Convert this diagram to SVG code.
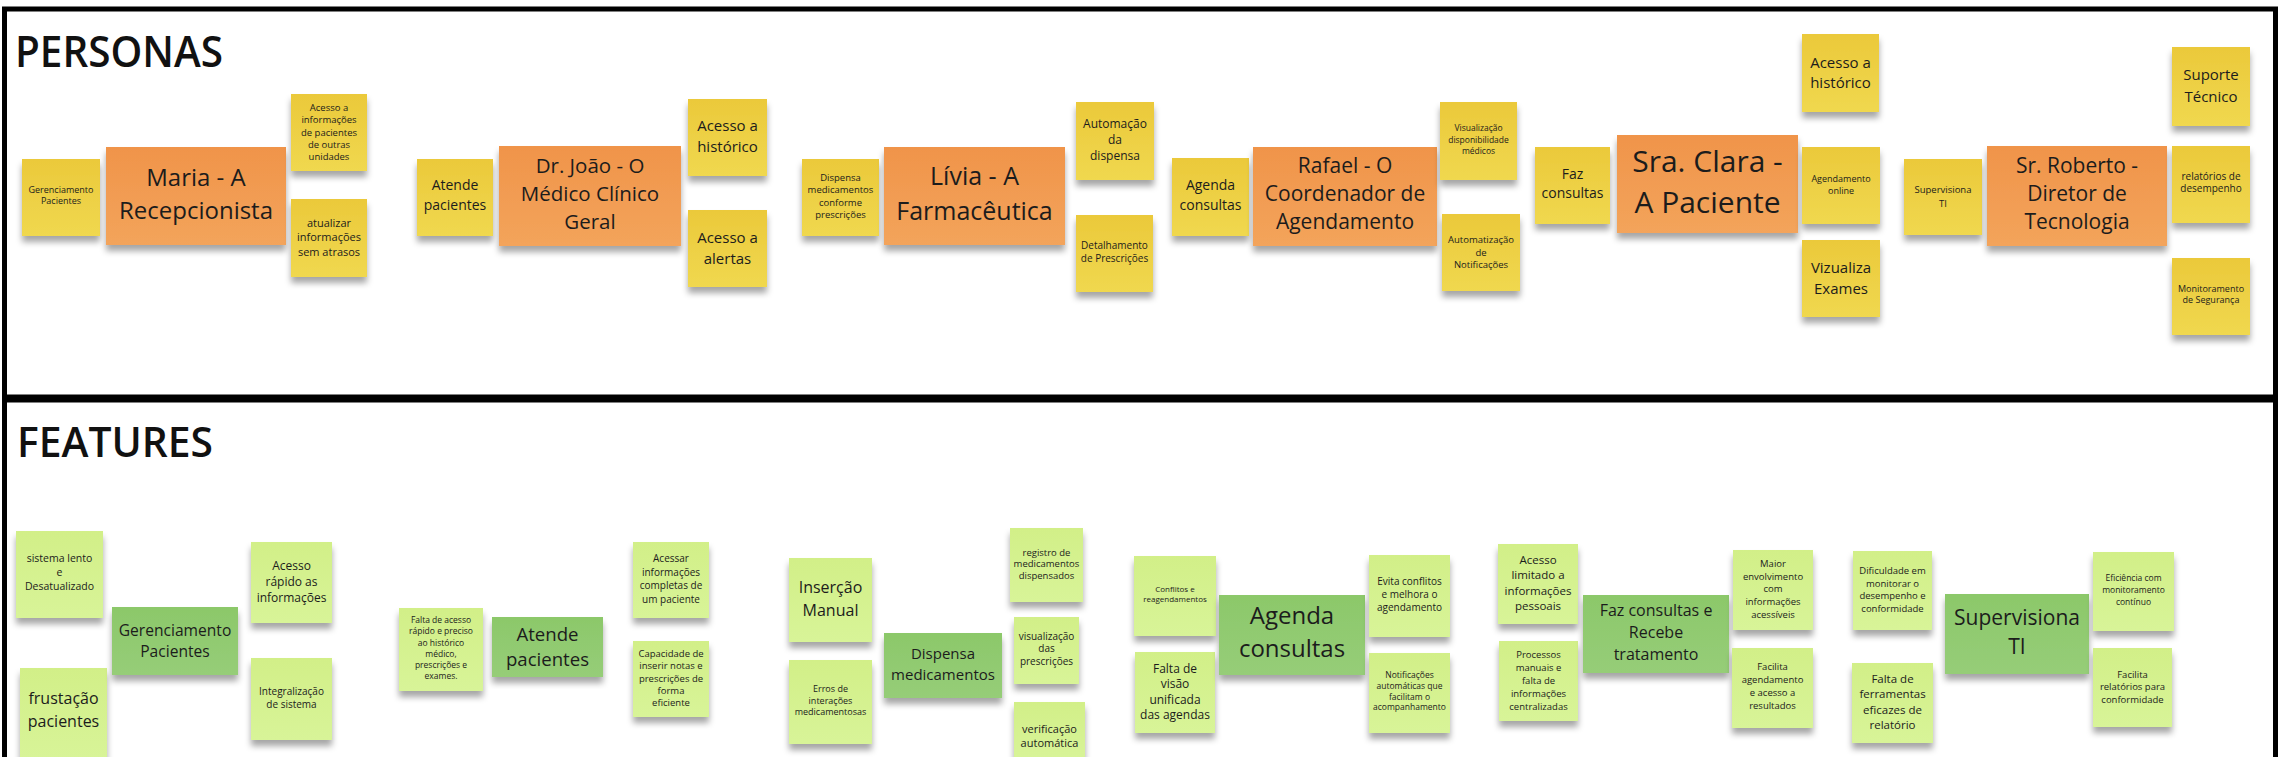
<svg xmlns="http://www.w3.org/2000/svg" width="2282" height="757" viewBox="0 0 2282 757">
<style>
text{font-family:"Open Sans","Noto Sans",sans-serif;fill:#1c1c1c;text-anchor:middle}
.title{text-anchor:start;font-weight:600;fill:#111}
.frame{fill:none;stroke:#000;stroke-width:5}
.y{fill:url(#gy);filter:url(#sh)}
.o{fill:url(#go);filter:url(#sh)}
.lg{fill:url(#glg);filter:url(#sh)}
.dg{fill:url(#gdg);filter:url(#sh)}
</style>
<defs>
<linearGradient id="gy" x1="0" y1="0" x2="0" y2="1"><stop offset="0" stop-color="#ebc93a"/><stop offset="1" stop-color="#f0d84f"/></linearGradient>
<linearGradient id="go" x1="0" y1="0" x2="0" y2="1"><stop offset="0" stop-color="#f0944a"/><stop offset="1" stop-color="#f3a45b"/></linearGradient>
<linearGradient id="glg" x1="0" y1="0" x2="0" y2="1"><stop offset="0" stop-color="#d2ef88"/><stop offset="1" stop-color="#d8f498"/></linearGradient>
<linearGradient id="gdg" x1="0" y1="0" x2="0" y2="1"><stop offset="0" stop-color="#8cc86a"/><stop offset="1" stop-color="#96cd78"/></linearGradient>
<filter id="sh" x="-10%" y="-10%" width="120%" height="130%"><feDropShadow dx="0" dy="6" stdDeviation="3" flood-color="#000" flood-opacity="0.35"/></filter>
</defs>
<rect width="2282" height="757" fill="#fff"/>
<g id="frames">
<rect class="frame" x="4.5" y="9" width="2271" height="388"/>
<rect class="frame" x="4.5" y="400" width="2271" height="400"/>
<text class="title" x="15" y="67" font-size="44" textLength="208" lengthAdjust="spacingAndGlyphs">PERSONAS</text>
<text class="title" x="17" y="457" font-size="42" textLength="196" lengthAdjust="spacingAndGlyphs">FEATURES</text>
</g>
<g id="connectors"></g>
<g id="p-gerenc"><rect class="y" x="22" y="159" width="78" height="77"/><text font-size="9"><tspan x="61" y="193">Gerenciamento</tspan><tspan x="61" y="204">Pacientes</tspan></text></g>
<g id="p-maria"><rect class="o" x="106" y="147" width="180" height="98"/><text font-size="24"><tspan x="196" y="186">Maria - A</tspan><tspan x="196" y="219">Recepcionista</tspan></text></g>
<g id="p-acesso-info"><rect class="y" x="291" y="94" width="76" height="77"/><text font-size="9.5"><tspan x="329" y="111">Acesso  a</tspan><tspan x="329" y="123">informações</tspan><tspan x="329" y="136">de pacientes</tspan><tspan x="329" y="148">de outras</tspan><tspan x="329" y="160">unidades</tspan></text></g>
<g id="p-atualizar"><rect class="y" x="291" y="199" width="76" height="78"/><text font-size="11"><tspan x="329" y="226.5">atualizar</tspan><tspan x="329" y="240.5">informações</tspan><tspan x="329" y="255.5">sem atrasos</tspan></text></g>
<g id="p-atende"><rect class="y" x="417" y="159" width="76" height="77"/><text font-size="14"><tspan x="455" y="190">Atende</tspan><tspan x="455" y="210">pacientes</tspan></text></g>
<g id="p-joao"><rect class="o" x="499" y="146" width="182" height="100"/><text font-size="20.5"><tspan x="590" y="173">Dr. João - O</tspan><tspan x="590" y="201">Médico Clínico</tspan><tspan x="590" y="229">Geral</tspan></text></g>
<g id="p-joao-hist"><rect class="y" x="688" y="99" width="79" height="77"/><text font-size="15"><tspan x="727.5" y="130.5">Acesso a</tspan><tspan x="727.5" y="151.5">histórico</tspan></text></g>
<g id="p-joao-alert"><rect class="y" x="688" y="210" width="79" height="77"/><text font-size="15"><tspan x="727.5" y="242.5">Acesso a</tspan><tspan x="727.5" y="263.5">alertas</tspan></text></g>
<g id="p-dispensa"><rect class="y" x="802" y="159" width="77" height="77"/><text font-size="9.5"><tspan x="840.5" y="181">Dispensa</tspan><tspan x="840.5" y="193">medicamentos</tspan><tspan x="840.5" y="206">conforme</tspan><tspan x="840.5" y="218">prescrições</tspan></text></g>
<g id="p-livia"><rect class="o" x="884" y="147" width="181" height="98"/><text font-size="25"><tspan x="974.5" y="184.5">Lívia - A</tspan><tspan x="974.5" y="219.5">Farmacêutica</tspan></text></g>
<g id="p-automacao"><rect class="y" x="1076" y="102" width="78" height="78"/><text font-size="12"><tspan x="1115" y="127.5">Automação</tspan><tspan x="1115" y="143.5">da</tspan><tspan x="1115" y="159.5">dispensa</tspan></text></g>
<g id="p-detalh"><rect class="y" x="1076" y="215" width="77" height="77"/><text font-size="10"><tspan x="1114.5" y="249">Detalhamento</tspan><tspan x="1114.5" y="262">de Prescrições</tspan></text></g>
<g id="p-agenda"><rect class="y" x="1172" y="158" width="77" height="78"/><text font-size="14"><tspan x="1210.5" y="190">Agenda</tspan><tspan x="1210.5" y="210">consultas</tspan></text></g>
<g id="p-rafael"><rect class="o" x="1253" y="147" width="184" height="99"/><text font-size="21"><tspan x="1345" y="173">Rafael - O</tspan><tspan x="1345" y="201">Coordenador de</tspan><tspan x="1345" y="229">Agendamento</tspan></text></g>
<g id="p-visual"><rect class="y" x="1440" y="102" width="77" height="78"/><text font-size="8.5"><tspan x="1478.5" y="130.5">Visualização</tspan><tspan x="1478.5" y="142.5">disponibilidade</tspan><tspan x="1478.5" y="153.5">médicos</tspan></text></g>
<g id="p-autonot"><rect class="y" x="1442" y="214" width="78" height="77"/><text font-size="9.5"><tspan x="1481" y="243">Automatização</tspan><tspan x="1481" y="256">de</tspan><tspan x="1481" y="268">Notificações</tspan></text></g>
<g id="p-faz"><rect class="y" x="1535" y="147" width="75" height="77"/><text font-size="14"><tspan x="1572.5" y="179">Faz</tspan><tspan x="1572.5" y="198">consultas</tspan></text></g>
<g id="p-clara"><rect class="o" x="1617" y="135" width="181" height="98"/><text font-size="30"><tspan x="1707.5" y="172">Sra. Clara -</tspan><tspan x="1707.5" y="213">A Paciente</tspan></text></g>
<g id="p-clara-hist"><rect class="y" x="1802" y="34" width="77" height="78"/><text font-size="15"><tspan x="1840.5" y="67.5">Acesso a</tspan><tspan x="1840.5" y="87.5">histórico</tspan></text></g>
<g id="p-agend-online"><rect class="y" x="1802" y="147" width="78" height="77"/><text font-size="9"><tspan x="1841" y="182">Agendamento</tspan><tspan x="1841" y="194">online</tspan></text></g>
<g id="p-vizualiza"><rect class="y" x="1802" y="240" width="78" height="77"/><text font-size="15"><tspan x="1841" y="272.5">Vizualiza</tspan><tspan x="1841" y="293.5">Exames</tspan></text></g>
<g id="p-superv"><rect class="y" x="1904" y="159" width="78" height="76"/><text font-size="9.5"><tspan x="1943" y="193">Supervisiona</tspan><tspan x="1943" y="207">TI</tspan></text></g>
<g id="p-roberto"><rect class="o" x="1987" y="146" width="180" height="100"/><text font-size="21"><tspan x="2077" y="173">Sr. Roberto -</tspan><tspan x="2077" y="201">Diretor de</tspan><tspan x="2077" y="229">Tecnologia</tspan></text></g>
<g id="p-suporte"><rect class="y" x="2172" y="47" width="78" height="79"/><text font-size="15"><tspan x="2211" y="79.5">Suporte</tspan><tspan x="2211" y="101.5">Técnico</tspan></text></g>
<g id="p-relat"><rect class="y" x="2172" y="146" width="78" height="77"/><text font-size="10"><tspan x="2211" y="180">relatórios de</tspan><tspan x="2211" y="192">desempenho</tspan></text></g>
<g id="p-monit"><rect class="y" x="2172" y="258" width="78" height="77"/><text font-size="9"><tspan x="2211" y="292">Monitoramento</tspan><tspan x="2211" y="303">de Segurança</tspan></text></g>
<g id="f-sistema"><rect class="lg" x="16" y="531" width="87" height="87"/><text font-size="10.5"><tspan x="59.5" y="562">sistema lento</tspan><tspan x="59.5" y="576">e</tspan><tspan x="59.5" y="590">Desatualizado</tspan></text></g>
<g id="f-frustacao"><rect class="lg" x="20" y="668" width="87" height="92"/><text font-size="16"><tspan x="63.5" y="704">frustação</tspan><tspan x="63.5" y="727">pacientes</tspan></text></g>
<g id="f-gerenc"><rect class="dg" x="112" y="607" width="126" height="68"/><text font-size="15.6"><tspan x="175" y="636">Gerenciamento</tspan><tspan x="175" y="657">Pacientes</tspan></text></g>
<g id="f-acesso-rap"><rect class="lg" x="251" y="542" width="81" height="81"/><text font-size="12"><tspan x="291.5" y="569.5">Acesso</tspan><tspan x="291.5" y="585.5">rápido as</tspan><tspan x="291.5" y="601.5">informações</tspan></text></g>
<g id="f-integr"><rect class="lg" x="251" y="658" width="81" height="82"/><text font-size="10"><tspan x="291.5" y="695">Integralização</tspan><tspan x="291.5" y="708">de sistema</tspan></text></g>
<g id="f-falta"><rect class="lg" x="399" y="608" width="84" height="83"/><text font-size="8.5"><tspan x="441" y="622.5">Falta de acesso</tspan><tspan x="441" y="633.5">rápido e preciso</tspan><tspan x="441" y="645.5">ao histórico</tspan><tspan x="441" y="656.5">médico,</tspan><tspan x="441" y="667.5">prescrições e</tspan><tspan x="441" y="678.5">exames.</tspan></text></g>
<g id="f-atende"><rect class="dg" x="492" y="617" width="111" height="60"/><text font-size="18.6"><tspan x="547.5" y="640.5">Atende</tspan><tspan x="547.5" y="665.5">pacientes</tspan></text></g>
<g id="f-acessar"><rect class="lg" x="633" y="542" width="76" height="76"/><text font-size="10"><tspan x="671" y="562">Acessar</tspan><tspan x="671" y="576">informações</tspan><tspan x="671" y="589">completas de</tspan><tspan x="671" y="603">um paciente</tspan></text></g>
<g id="f-capac"><rect class="lg" x="633" y="641" width="76" height="76"/><text font-size="9.5"><tspan x="671" y="657">Capacidade de</tspan><tspan x="671" y="669">inserir notas e</tspan><tspan x="671" y="682">prescrições de</tspan><tspan x="671" y="694">forma</tspan><tspan x="671" y="706">eficiente</tspan></text></g>
<g id="f-insercao"><rect class="lg" x="789" y="558" width="83" height="84"/><text font-size="16"><tspan x="830.5" y="593">Inserção</tspan><tspan x="830.5" y="616">Manual</tspan></text></g>
<g id="f-erros"><rect class="lg" x="789" y="660" width="83" height="84"/><text font-size="9"><tspan x="830.5" y="692">Erros de</tspan><tspan x="830.5" y="704">interações</tspan><tspan x="830.5" y="715">medicamentosas</tspan></text></g>
<g id="f-dispensa"><rect class="dg" x="884" y="633" width="118" height="65"/><text font-size="15"><tspan x="943" y="658.5">Dispensa</tspan><tspan x="943" y="679.5">medicamentos</tspan></text></g>
<g id="f-registro"><rect class="lg" x="1010" y="528" width="73" height="74"/><text font-size="9.5"><tspan x="1046.5" y="556">registro de</tspan><tspan x="1046.5" y="567">medicamentos</tspan><tspan x="1046.5" y="579">dispensados</tspan></text></g>
<g id="f-visualiz"><rect class="lg" x="1014" y="617" width="65" height="67"/><text font-size="10"><tspan x="1046.5" y="640">visualização</tspan><tspan x="1046.5" y="652">das</tspan><tspan x="1046.5" y="665">prescrições</tspan></text></g>
<g id="f-verific"><rect class="lg" x="1014" y="702" width="71" height="58"/><text font-size="11"><tspan x="1049.5" y="732.5">verificação</tspan><tspan x="1049.5" y="746.5">automática</tspan></text></g>
<g id="f-conflitos"><rect class="lg" x="1134" y="556" width="82" height="80"/><text font-size="8"><tspan x="1175" y="591.5">Conflitos e</tspan><tspan x="1175" y="601.5">reagendamentos</tspan></text></g>
<g id="f-faltavisao"><rect class="lg" x="1135" y="652" width="80" height="81"/><text font-size="12"><tspan x="1175" y="672.5">Falta de</tspan><tspan x="1175" y="687.5">visão</tspan><tspan x="1175" y="703.5">unificada</tspan><tspan x="1175" y="718.5">das agendas</tspan></text></g>
<g id="f-agenda"><rect class="dg" x="1219" y="595" width="146" height="80"/><text font-size="24"><tspan x="1292" y="624">Agenda</tspan><tspan x="1292" y="657">consultas</tspan></text></g>
<g id="f-evita"><rect class="lg" x="1369" y="555" width="81" height="82"/><text font-size="10"><tspan x="1409.5" y="585">Evita conflitos</tspan><tspan x="1409.5" y="598">e melhora o</tspan><tspan x="1409.5" y="611">agendamento</tspan></text></g>
<g id="f-notif"><rect class="lg" x="1369" y="653" width="81" height="80"/><text font-size="8.5"><tspan x="1409.5" y="677.5">Notificações</tspan><tspan x="1409.5" y="688.5">automáticas que</tspan><tspan x="1409.5" y="699.5">facilitam o</tspan><tspan x="1409.5" y="709.5">acompanhamento</tspan></text></g>
<g id="f-limitado"><rect class="lg" x="1498" y="544" width="80" height="80"/><text font-size="11.5"><tspan x="1538" y="563.5">Acesso</tspan><tspan x="1538" y="578.5">limitado a</tspan><tspan x="1538" y="594.5">informações</tspan><tspan x="1538" y="609.5">pessoais</tspan></text></g>
<g id="f-processos"><rect class="lg" x="1499" y="641" width="79" height="80"/><text font-size="9.5"><tspan x="1538.5" y="658">Processos</tspan><tspan x="1538.5" y="671">manuais e</tspan><tspan x="1538.5" y="684">falta de</tspan><tspan x="1538.5" y="697">informações</tspan><tspan x="1538.5" y="710">centralizadas</tspan></text></g>
<g id="f-faz"><rect class="dg" x="1583" y="595" width="146" height="78"/><text font-size="16"><tspan x="1656" y="616">Faz consultas e</tspan><tspan x="1656" y="638">Recebe</tspan><tspan x="1656" y="660">tratamento</tspan></text></g>
<g id="f-maior"><rect class="lg" x="1733" y="550" width="80" height="80"/><text font-size="9.5"><tspan x="1773" y="567">Maior</tspan><tspan x="1773" y="580">envolvimento</tspan><tspan x="1773" y="592">com</tspan><tspan x="1773" y="605">informações</tspan><tspan x="1773" y="618">acessíveis</tspan></text></g>
<g id="f-facilita-ag"><rect class="lg" x="1732" y="648" width="81" height="80"/><text font-size="9.5"><tspan x="1772.5" y="670">Facilita</tspan><tspan x="1772.5" y="683">agendamento</tspan><tspan x="1772.5" y="696">e acesso a</tspan><tspan x="1772.5" y="709">resultados</tspan></text></g>
<g id="f-dificuldade"><rect class="lg" x="1853" y="551" width="79" height="79"/><text font-size="9.5"><tspan x="1892.5" y="574">Dificuldade em</tspan><tspan x="1892.5" y="587">monitorar o</tspan><tspan x="1892.5" y="599">desempenho e</tspan><tspan x="1892.5" y="612">conformidade</tspan></text></g>
<g id="f-ferramentas"><rect class="lg" x="1852" y="663" width="81" height="80"/><text font-size="11.5"><tspan x="1892.5" y="682.5">Falta de</tspan><tspan x="1892.5" y="697.5">ferramentas</tspan><tspan x="1892.5" y="713.5">eficazes de</tspan><tspan x="1892.5" y="728.5">relatório</tspan></text></g>
<g id="f-superv"><rect class="dg" x="1945" y="594" width="144" height="80"/><text font-size="21"><tspan x="2017" y="625">Supervisiona</tspan><tspan x="2017" y="654">TI</tspan></text></g>
<g id="f-eficiencia"><rect class="lg" x="2093" y="552" width="81" height="79"/><text font-size="8.5"><tspan x="2133.5" y="580.5">Eficiência com</tspan><tspan x="2133.5" y="592.5">monitoramento</tspan><tspan x="2133.5" y="604.5">contínuo</tspan></text></g>
<g id="f-facilita-rel"><rect class="lg" x="2093" y="648" width="79" height="79"/><text font-size="9.5"><tspan x="2132.5" y="678">Facilita</tspan><tspan x="2132.5" y="690">relatórios para</tspan><tspan x="2132.5" y="703">conformidade</tspan></text></g>
</svg>
